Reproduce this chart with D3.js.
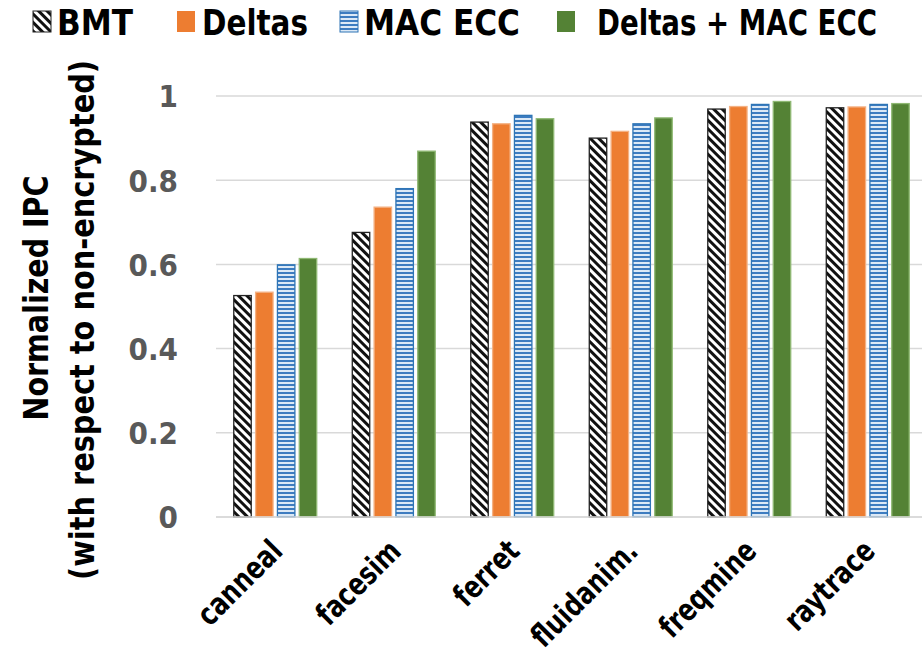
<!DOCTYPE html>
<html><head><meta charset="utf-8">
<script src="https://cdn.jsdelivr.net/npm/d3@7"></script>
<style>
body{margin:0;background:#fff;}
svg{display:block;}
text{font-family:"Liberation Sans Narrow","DejaVu Sans Condensed","Open Sans",sans-serif;font-weight:bold;}
</style></head>
<body><svg id="c" width="922" height="662"></svg>
<script>
const categories = ["canneal","facesim","ferret","fluidanim.","freqmine","raytrace"];
const seriesNames = ["BMT","Deltas","MAC ECC","Deltas + MAC ECC"];
const BMT = [0.526,0.676,0.938,0.900,0.969,0.972];
const Deltas = [0.534,0.736,0.934,0.916,0.975,0.974];
const MACECC = [0.599,0.780,0.954,0.934,0.980,0.980];
const DeltasMAC = [0.614,0.869,0.946,0.948,0.987,0.982];
const yTicks = [0,0.2,0.4,0.6,0.8,1];
const yTickLabels = ["0","0.2","0.4","0.6","0.8","1"];
const series = [BMT, Deltas, MACECC, DeltasMAC];

const svg = d3.select("#c");
const defs = svg.append("defs");
const p1 = defs.append("pattern").attr("id","diag").attr("patternUnits","userSpaceOnUse")
  .attr("width",6).attr("height",6).attr("patternTransform","rotate(-45)");
p1.append("rect").attr("width",6).attr("height",6).attr("fill","#fff");
p1.append("rect").attr("width",3).attr("height",6).attr("fill","#111");
const p2 = defs.append("pattern").attr("id","horiz").attr("patternUnits","userSpaceOnUse")
  .attr("width",4).attr("height",4);
p2.append("rect").attr("width",4).attr("height",4).attr("fill","#dce9f6");
p2.append("rect").attr("width",4).attr("height",2).attr("fill","#3d7cc0");

const fills = ["url(#diag)","#ED7D31","url(#horiz)","#548235"];
const strokes = ["#222","#f4b183","#2e75b6","#8fb873"];

const x0 = d3.scaleBand().domain(categories).range([216,927]).paddingInner(0.3).paddingOuter(0.15);
const x1 = d3.scaleBand().domain(d3.range(4)).range([0,x0.bandwidth()]).paddingInner(0.2);
const y = d3.scaleLinear().domain([0,1]).range([517,96]);

svg.append("g").selectAll("line").data(yTicks).join("line")
  .attr("x1",216).attr("x2",922).attr("y1",d=>y(d)).attr("y2",d=>y(d))
  .attr("stroke","#d9d9d9").attr("stroke-width",1.5);

const yAxis = d3.axisLeft(y).tickValues(yTicks).tickFormat((d,i)=>yTickLabels[i]).tickSize(0).tickPadding(0);
const ya = svg.append("g").attr("transform","translate(178,0)").call(yAxis);
ya.select(".domain").remove();
ya.selectAll("text").attr("fill","#595959").style("font-size","31px")
  .style("font-family",'"Liberation Sans Narrow","DejaVu Sans Condensed",sans-serif').attr("dy","0.35em");

const g = svg.append("g");
categories.forEach((c,ci)=>{
  series.forEach((s,si)=>{
    g.append("rect")
      .attr("x",x0(c)+x1(si)).attr("width",x1.bandwidth())
      .attr("y",y(s[ci])).attr("height",y(0)-y(s[ci]))
      .attr("fill",fills[si]).attr("stroke",strokes[si]).attr("stroke-width",1.3);
  });
});

const xAxis = d3.axisBottom(x0).tickSize(0).tickPadding(0);
const xa = svg.append("g").call(xAxis);
xa.select(".domain").remove();
xa.selectAll(".tick").attr("transform",d=>`translate(${x0(d)+x0.bandwidth()/2+9},553)`);
xa.selectAll("text").attr("fill","#000").style("font-size","31px")
  .style("font-family",'"Liberation Sans Narrow","DejaVu Sans Condensed",sans-serif')
  .attr("text-anchor","end").attr("transform","rotate(-45)").attr("y",0).attr("dy","0")
  .each(function(){
    const L = this.getComputedTextLength();
    d3.select(this).attr("textLength",L*0.86).attr("lengthAdjust","spacingAndGlyphs");
  });

svg.append("line").attr("x1",216).attr("x2",922).attr("y1",y(0)).attr("y2",y(0))
  .attr("stroke","#d9d9d9").attr("stroke-width",1.5);

svg.append("text").attr("transform","translate(48,298) rotate(-90)").attr("text-anchor","middle")
  .style("font-size","33px").attr("fill","#000")
  .attr("textLength",245).attr("lengthAdjust","spacingAndGlyphs").text("Normalized IPC");
svg.append("text").attr("transform","translate(94,320) rotate(-90)").attr("text-anchor","middle")
  .style("font-size","33px").attr("fill","#000")
  .attr("textLength",520).attr("lengthAdjust","spacingAndGlyphs").text("(with respect to non-encrypted)");

const legSwX = [33,177,340,557];
const legTxX = [57,202,364,597];
const legTxW = [76,106,156,280];
const leg = svg.append("g");
seriesNames.forEach((n,i)=>{
  leg.append("rect").attr("x",legSwX[i]).attr("y",11).attr("width",18).attr("height",21)
    .attr("fill",fills[i]).attr("stroke",i==0?"#222":(i==2?"#2e75b6":"none")).attr("stroke-width",1);
  leg.append("text").attr("x",legTxX[i]).attr("y",35).style("font-size","35px").attr("fill","#000")
    .attr("textLength",legTxW[i]).attr("lengthAdjust","spacingAndGlyphs").text(n);
});
</script></body></html>
